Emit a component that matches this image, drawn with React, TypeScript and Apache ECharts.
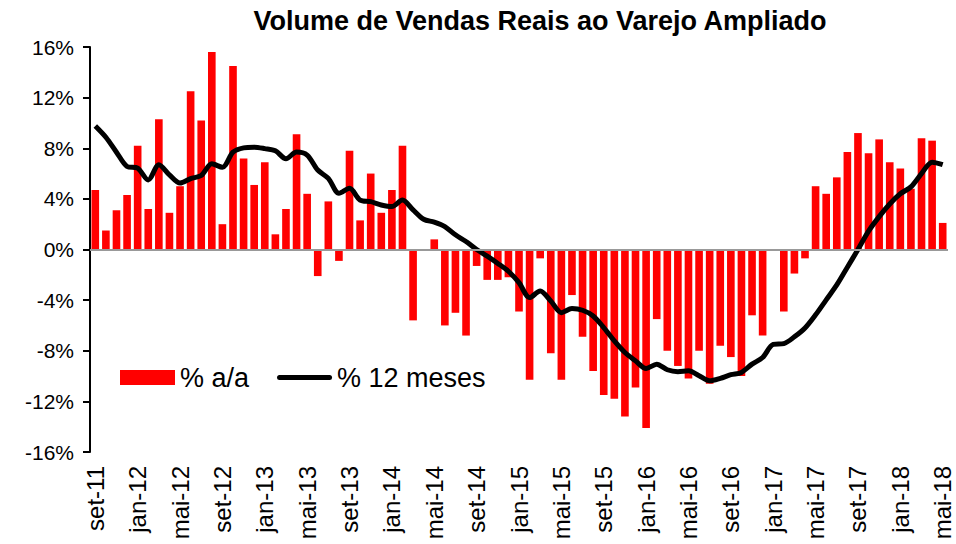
import React, { useEffect, useRef } from "react";
import * as echarts from "echarts";

const monthNames = ["jan", "fev", "mar", "abr", "mai", "jun", "jul", "ago", "set", "out", "nov", "dez"];

// categories: set-11 .. mai-18
const categories: string[] = [];
for (let y = 2011, m = 8; y < 2018 || (y === 2018 && m <= 4); ) {
  categories.push(`${monthNames[m]}-${String(y).slice(2)}`);
  m++;
  if (m === 12) { m = 0; y++; }
}

const yoyValues = [
  4.7, 1.5, 3.1, 4.3, 8.2, 3.2, 10.3, 2.9, 5.0, 12.5, 10.2, 15.6,
  2.0, 14.5, 7.2, 5.1, 6.9, 1.2, 3.2, 9.1, 4.4, -2.1, 3.8, -0.9,
  7.8, 2.3, 6.0, 2.9, 4.7, 8.2, -5.6, 0.0, 0.8, -6.0, -5.0, -6.8,
  -1.3, -2.4, -2.4, -2.2, -4.9, -10.3, -0.7, -8.2, -10.3, -3.6, -6.9, -9.6,
  -11.5, -11.8, -13.2, -10.9, -14.1, -5.5, -8.0, -9.2, -10.2, -8.0, -10.6, -7.6,
  -8.5, -10.0, -5.2, -6.8, 0.0, -4.9, -1.9, -0.7, 5.0, 4.4, 5.7, 7.7,
  9.2, 7.6, 8.7, 6.9, 6.4, 4.8, 8.8, 8.6, 2.1,
];

const twelveMonthValues = [
  9.76, 8.87, 7.69, 6.56, 6.43, 5.5, 6.7, 5.9, 5.25, 5.6, 5.85, 6.77,
  6.5, 7.69, 8.03, 8.08, 7.97, 7.8, 7.17, 7.7, 7.46, 6.28, 5.62, 4.44,
  4.83, 3.91, 3.78, 3.52, 3.39, 3.91, 3.13, 2.39, 2.16, 1.81, 1.16, 0.63,
  0.0, -0.53, -1.1, -1.72, -2.62, -3.8, -3.28, -4.07, -4.99, -4.67, -4.8, -5.25,
  -6.17, -7.22, -8.14, -8.8, -9.4, -9.06, -9.5, -9.65, -9.58, -9.97, -10.37, -10.18,
  -9.89, -9.71, -9.06, -8.53, -7.5, -7.44, -6.9, -6.2, -5.16, -3.98, -2.8, -1.4,
  0.0, 1.45, 2.6, 3.6, 4.4, 4.95, 6.0, 6.9, 6.7,
];

const yTicks = { min: -16, max: 16, interval: 4 };
const titleText = "Volume de Vendas Reais ao Varejo Ampliado";
const seriesNames = ["% a/a", "% 12 meses"];

const FONT = "'Liberation Sans', Arial, sans-serif";

export default function App() {
  const ref = useRef<HTMLDivElement>(null);
  useEffect(() => {
    document.body.style.margin = "0";
    if (!ref.current) return;
    const chart = echarts.init(ref.current, undefined, { renderer: "svg" });
    chart.setOption({
      animation: false,
      backgroundColor: "#fff",
      textStyle: { fontFamily: FONT, color: "#000" },
      graphic: [
        {
          type: "text",
          x: 540,
          y: 21,
          style: {
            text: titleText,
            font: `bold 27px ${FONT}`,
            fill: "#000",
            textAlign: "center",
            textVerticalAlign: "middle",
          },
        },
      ],
      legend: {
        left: 120,
        top: 364,
        padding: 0,
        itemWidth: 55,
        itemHeight: 15,
        itemGap: 28,
        symbolKeepAspect: true,
        textStyle: { fontSize: 27, color: "#000", fontFamily: FONT },
        data: [
          { name: seriesNames[0], icon: "rect" },
          { name: seriesNames[1], icon: "path://M2.5,0L52.5,0A2.5,2.5,0,0,1,52.5,5L2.5,5A2.5,2.5,0,0,1,2.5,0Z" },
        ],
      },
      grid: { left: 90, right: 8, top: 47, bottom: 92 },
      xAxis: {
        type: "category",
        data: categories,
        axisLine: { show: false, onZero: false },
        axisTick: { show: false },
        axisLabel: {
          rotate: 90,
          interval: 3,
          fontSize: 24,
          color: "#000",
          margin: 14,
          fontFamily: FONT,
        },
      },
      yAxis: {
        type: "value",
        min: yTicks.min,
        max: yTicks.max,
        interval: yTicks.interval,
        axisLine: { show: true, lineStyle: { color: "#000", width: 2 } },
        axisTick: { show: true, length: 7, lineStyle: { color: "#000", width: 2 } },
        splitLine: { show: false },
        axisLabel: { formatter: "{value}%", fontSize: 21, color: "#000", margin: 16, fontFamily: FONT },
      },
      series: [
        {
          name: seriesNames[0],
          type: "bar",
          data: yoyValues,
          barCategoryGap: "28%",
          itemStyle: { color: "#ff0000" },
          markLine: {
            silent: true,
            symbol: "none",
            label: { show: false },
            lineStyle: { color: "#999999", width: 2, type: "solid" },
            data: [{ yAxis: 0 }],
          },
        },
        {
          name: seriesNames[1],
          type: "line",
          data: twelveMonthValues,
          smooth: 0.3,
          symbol: "none",
          lineStyle: { color: "#000", width: 5 },
          itemStyle: { color: "#000" },
        },
      ],
    });
    return () => chart.dispose();
  }, []);
  return <div ref={ref} style={{ width: 956, height: 544 }} />;
}
